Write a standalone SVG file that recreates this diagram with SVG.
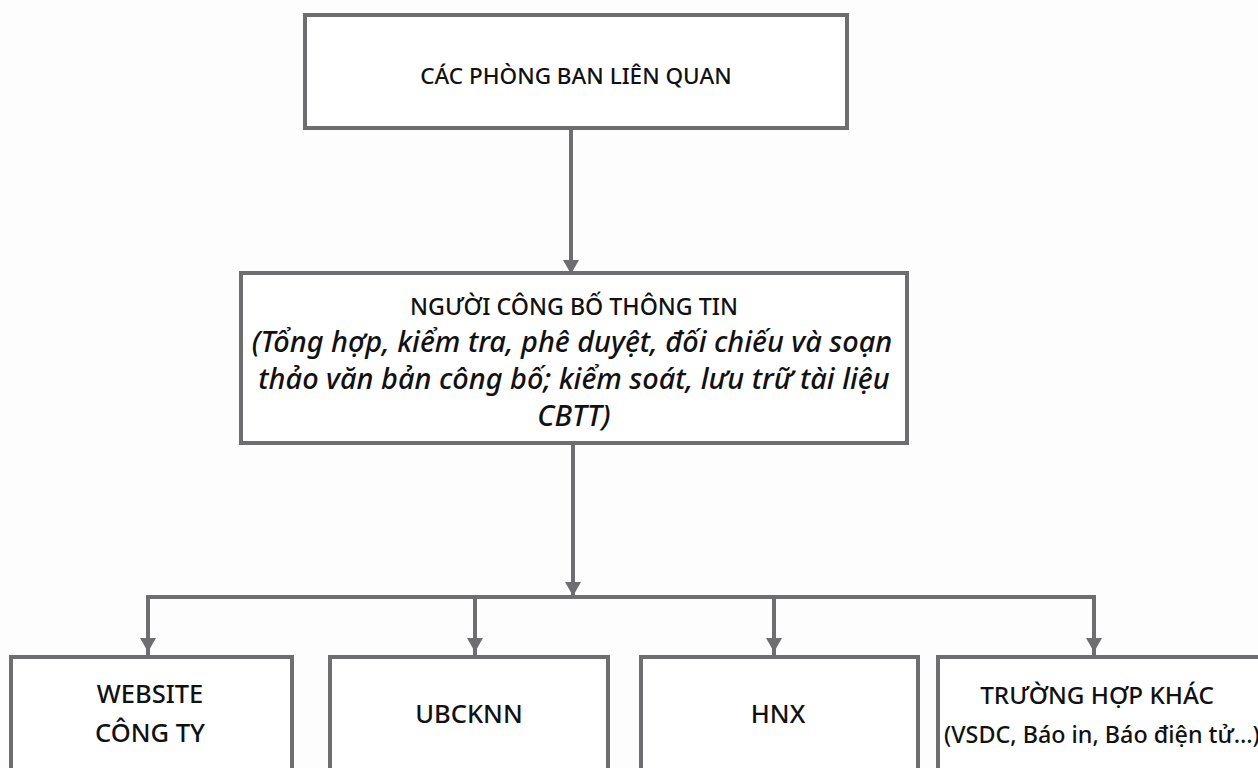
<svg xmlns="http://www.w3.org/2000/svg" width="1258" height="768" viewBox="0 0 1258 768">
  <style>
    .box { fill: #ffffff; stroke: #6e6e70; stroke-width: 4; }
    .conn { fill: none; stroke: #6e6e70; stroke-width: 4; }
    .t { font-family: "Noto Sans", "Open Sans", sans-serif; font-size: 22.5px; font-weight: 500; fill: #111111; text-anchor: middle; }
    .h { font-size: 23.2px; }
    .it { font-style: italic; font-size: 28.9px; }
    .b { font-size: 25.5px; }
    .k { font-size: 24.3px; }
    .s { font-size: 23.3px; text-anchor: start; }
  </style>
  <defs>
    <marker id="arr" viewBox="0 0 14 16" refX="14" refY="8" markerWidth="14" markerHeight="16" markerUnits="userSpaceOnUse" orient="auto">
      <path d="M0,0 L14,8 L0,16 Z" fill="#6e6e70"/>
    </marker>
  </defs>
  <rect width="1258" height="768" fill="#fdfdfd"/>

  <g id="connectors">
    <line class="conn" x1="571" y1="129" x2="571" y2="272"/>
    <line class="conn" x1="573" y1="444" x2="573" y2="596"/>
    <polyline class="conn" points="148,655 148,597 1094,597 1094,655"/>
    <line class="conn" x1="475" y1="597" x2="475" y2="655"/>
    <line class="conn" x1="774" y1="597" x2="774" y2="655"/>
    <line class="conn" x1="571" y1="200" x2="571" y2="274" marker-end="url(#arr)"/>
    <line class="conn" x1="573" y1="500" x2="573" y2="596" marker-end="url(#arr)"/>
    <line class="conn" x1="148" y1="610" x2="148" y2="652" marker-end="url(#arr)"/>
    <line class="conn" x1="475" y1="610" x2="475" y2="652" marker-end="url(#arr)"/>
    <line class="conn" x1="774" y1="610" x2="774" y2="652" marker-end="url(#arr)"/>
    <line class="conn" x1="1094" y1="610" x2="1094" y2="652" marker-end="url(#arr)"/>
  </g>

  <g id="node-phong-ban">
    <rect class="box" x="305" y="15" width="542" height="113"/>
    <text class="t" x="576" y="84">CÁC PHÒNG BAN LIÊN QUAN</text>
  </g>

  <g id="node-nguoi-cbtt">
    <rect class="box" x="241" y="273" width="666" height="170"/>
    <text class="t h" x="574" y="315">NGƯỜI CÔNG BỐ THÔNG TIN</text>
    <text class="t it" x="572" y="352">(Tổng hợp, kiểm tra, phê duyệt, đối chiếu và soạn</text>
    <text class="t it" x="574" y="389">thảo văn bản công bố; kiểm soát, lưu trữ tài liệu</text>
    <text class="t it" x="574" y="426">CBTT)</text>
  </g>

  <g id="node-website">
    <rect class="box" x="11" y="657" width="281" height="120"/>
    <text class="t b" x="150" y="703">WEBSITE</text>
    <text class="t b" x="150" y="742">CÔNG TY</text>
  </g>

  <g id="node-ubcknn">
    <rect class="box" x="330" y="657" width="278" height="120"/>
    <text class="t b" x="469" y="723">UBCKNN</text>
  </g>

  <g id="node-hnx">
    <rect class="box" x="641" y="657" width="277" height="120"/>
    <text class="t b" x="778" y="723">HNX</text>
  </g>

  <g id="node-khac">
    <rect class="box" x="938" y="657" width="330" height="120"/>
    <text class="t k" x="1097" y="704">TRƯỜNG HỢP KHÁC</text>
    <text class="t s" x="944" y="743">(VSDC, Báo in, Báo điện tử…)</text>
  </g>
</svg>
